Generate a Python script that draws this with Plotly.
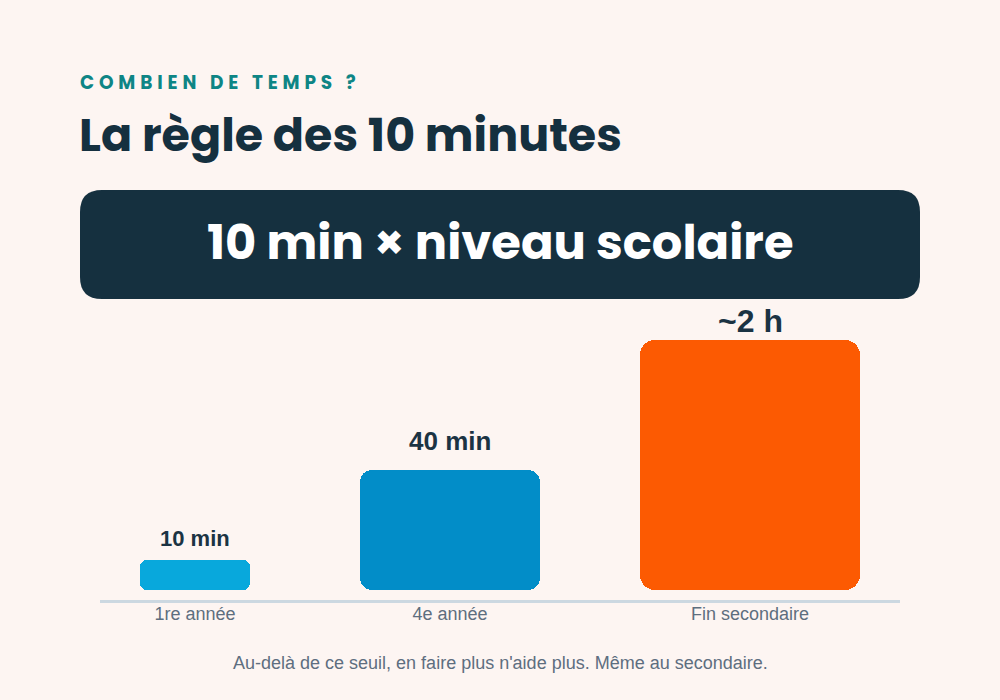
import plotly.graph_objects as go

# ---- data ----
categories = ["1re année", "4e année", "Fin secondaire"]
bar_heights = [12, 48, 100]          # relative displayed heights
value_labels = ["10 min", "40 min", "~2 h"]
bar_colors = ["#08A8DC", "#028DC8", "#FC5A02"]

# ---- layout constants (positions/styles) ----
centers = [195, 450, 750]
widths = [110, 180, 220]
radii = [10, 12, 15]
label_sizes = [22, 26, 32]
label_offsets = [22, 29, 19]
PX_PER_UNIT = 2.5

BG = "#FDF5F2"
NAVY = "#15303F"

fig = go.Figure()
for i, cat in enumerate(categories):
    h = bar_heights[i]
    half = h / 2
    r_u = radii[i] / PX_PER_UNIT
    common = dict(x=[centers[i]], width=[widths[i]], name=cat, showlegend=False, hoverinfo="skip")
    # upper half (rounded top), lower half (rounded bottom), square middle filler
    fig.add_trace(go.Bar(y=[half], base=[half],
                         marker=dict(color=bar_colors[i], cornerradius=radii[i], line=dict(width=0)), **common))
    fig.add_trace(go.Bar(y=[-half], base=[half],
                         marker=dict(color=bar_colors[i], cornerradius=radii[i], line=dict(width=0)), **common))
    fig.add_trace(go.Bar(y=[h - 2 * r_u], base=[r_u],
                         marker=dict(color=bar_colors[i], line=dict(width=0)), **common))
    fig.add_annotation(x=centers[i], y=h, xref="x", yref="y", text=f"<b>{value_labels[i]}</b>",
                       showarrow=False, yanchor="middle", yshift=label_offsets[i],
                       font=dict(family="Liberation Sans, Arial, sans-serif", size=label_sizes[i], color="#1B3343"))

fig.update_layout(
    width=1000, height=700,
    margin=dict(l=100, r=100, t=300, b=100),
    paper_bgcolor=BG, plot_bgcolor="rgba(0,0,0,0)",
    barmode="overlay", bargap=0,
    xaxis=dict(range=[100, 900], tickmode="array", tickvals=centers, ticktext=categories,
               showgrid=False, zeroline=False, showline=True, linecolor="#CCD8E1", linewidth=3,
               ticks="", ticklabelstandoff=-5,
               tickfont=dict(family="Liberation Sans, Arial, sans-serif", size=18, color="#5E6E7E"),
               fixedrange=True),
    yaxis=dict(range=[-4, 116], visible=False, fixedrange=True),
    showlegend=False,
)

def px_x(p):
    return (p - 100) / 800

def px_y(p):
    return (600 - p) / 300

kicker = "\u2009\u200a".join(list("COMBIEN DE TEMPS ?"))
fig.add_annotation(x=px_x(78), y=px_y(83), xref="paper", yref="paper", xanchor="left", yanchor="middle",
                   text=f"<b>{kicker}</b>", showarrow=False,
                   font=dict(family="Poppins, Inter, Noto Sans, sans-serif", size=18.5, color="#0E8585"))
fig.add_annotation(x=px_x(77), y=px_y(135), xref="paper", yref="paper", xanchor="left", yanchor="middle",
                   text="<b>La règle des 10 minutes</b>", showarrow=False,
                   font=dict(family="Poppins, Inter, Noto Sans, sans-serif", size=46, color=NAVY))

# rounded box
x0, x1, y0, y1, r = 80, 920, 190, 299, 22
def P(x, y):
    return f"{px_x(x)},{px_y(y)}"
path = (f"M {P(x0 + r, y0)} L {P(x1 - r, y0)} Q {P(x1, y0)} {P(x1, y0 + r)} "
        f"L {P(x1, y1 - r)} Q {P(x1, y1)} {P(x1 - r, y1)} L {P(x0 + r, y1)} "
        f"Q {P(x0, y1)} {P(x0, y1 - r)} L {P(x0, y0 + r)} Q {P(x0, y0)} {P(x0 + r, y0)} Z")
fig.add_shape(type="path", path=path, xref="paper", yref="paper", fillcolor=NAVY, line=dict(width=0), layer="below")
fig.add_annotation(x=px_x(500), y=px_y(242), xref="paper", yref="paper", xanchor="center", yanchor="middle",
                   text="<b>10 min × niveau scolaire</b>", showarrow=False,
                   font=dict(family="Poppins, Inter, Noto Sans, sans-serif", size=48, color="white"))

fig.add_annotation(x=px_x(500), y=px_y(663), xref="paper", yref="paper", xanchor="center", yanchor="middle",
                   text="Au-delà de ce seuil, en faire plus n'aide plus. Même au secondaire.", showarrow=False,
                   font=dict(family="Liberation Sans, Arial, sans-serif", size=18, color="#5E6E80"))

fig.write_html("out.html", config={"displayModeBar": False},
               post_script="document.body.style.margin='0';document.body.style.background='#FDF5F2';")
